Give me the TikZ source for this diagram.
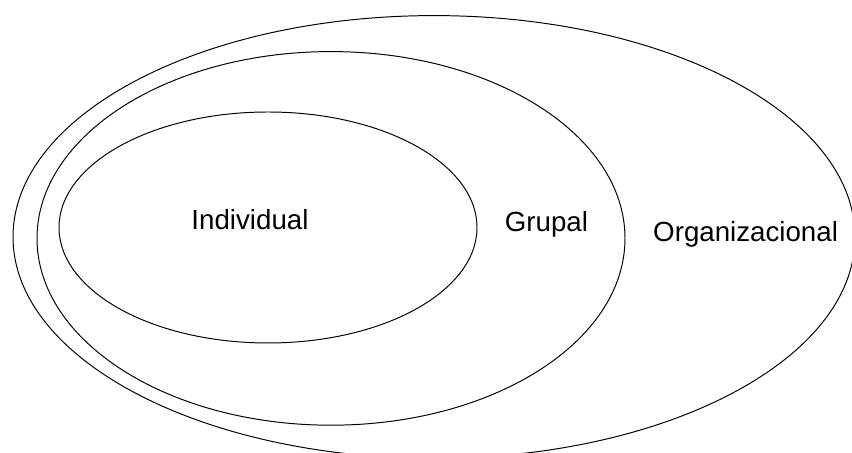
\documentclass[tikz,border=0pt]{standalone}
\usepackage{fontspec}
\setmainfont{Liberation Sans}
\usepackage{tikz}
\usetikzlibrary{shapes.geometric}

\begin{document}
\begin{tikzpicture}[
		ring/.style={draw, ellipse, line width=0.7pt, inner sep=0pt},
		lbl/.style={font=\fontsize{19.7}{24}\selectfont, anchor=base, inner sep=0pt}]

		\useasboundingbox (0,0) rectangle (21.3,11.325);

		% ── nested levels ──
		\node[ring, minimum width=21.05cm, minimum height=11.07cm] (org) at (10.85,5.4) {};
		\node[ring, minimum width=14.7cm, minimum height=9.34cm] (grp) at (8.275,5.365) {};
		\node[ring, minimum width=10.45cm, minimum height=5.775cm] (ind) at (6.7,5.6375) {};

		% ── labels ──
		\node[lbl] (lind) at (6.25,5.575) {Individual};
		\node[lbl] (lgrp) at (13.66,5.525) {Grupal};
		\node[lbl] (lorg) at (18.64,5.275) {Organizacional};

	\end{tikzpicture}
\end{document}
